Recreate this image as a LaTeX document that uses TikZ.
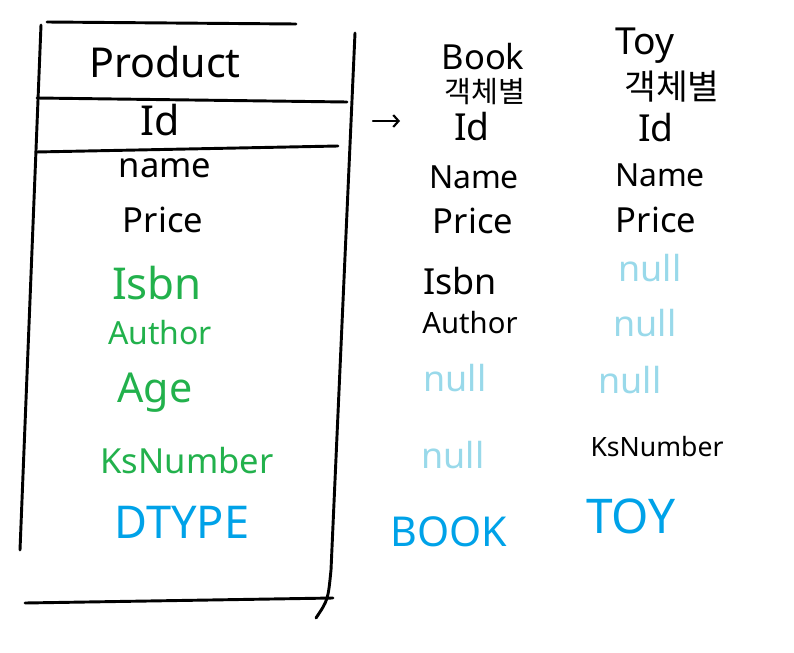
\documentclass[tikz,border=0pt]{standalone}
\usepackage{fontspec}
\setmainfont{Noto Sans}
\newfontfamily\korfont{Noto Sans CJK KR}
\usetikzlibrary{arrows.meta}
\definecolor{ink}{HTML}{000000}
\definecolor{grn}{HTML}{22B14C}
\definecolor{sky}{HTML}{00A2E8}
\definecolor{pale}{HTML}{99D9EA}

\begin{document}
\begin{tikzpicture}[x=0.02645cm,y=-0.02645cm,text=ink,>={Straight Barb[length=4pt,width=9pt]},
  pen/.style={line width=2.2pt,line cap=round,line join=round},
  fld/.style={inner sep=0pt,font=\fontsize{26}{28}\selectfont},
  sub/.style={fld,text=grn},
  nul/.style={inner sep=0pt,font=\fontsize{27}{29}\selectfont,text=pale},
  kind/.style={inner sep=0pt,font=\fontsize{34}{36}\selectfont,text=sky}]
  \useasboundingbox (0,0) rectangle (794,653);

  % single table
  \draw[pen] (47,22) -- (296,24);
  \draw[pen] (41,25) -- (20,550);
  \draw[pen] (355,33) -- (331,570) .. controls (328,600) .. (316,618);
  \draw[pen] (37,98) -- (347,102);
  \draw[pen] (36,152) -- (338,146);
  \draw[pen] (25,603) -- (333,598);

  \node[fld,font=\fontsize{31}{33}\selectfont] (prod) at (165,62) {Product};
  \node[fld,font=\fontsize{31}{33}\selectfont] (pid) at (160,120) {Id};
  \node[fld] (pname) at (165,168) {name};
  \node[fld] (pprice) at (163,220) {Price};
  \node[sub,font=\fontsize{33}{35}\selectfont] (pisbn) at (157,283) {Isbn};
  \node[sub,font=\fontsize{24}{26}\selectfont] (pauth) at (160,333) {Author};
  \node[sub,font=\fontsize{31}{33}\selectfont] (page) at (155,393) {Age};
  \node[sub] (pks) at (187,461) {KsNumber};
  \node[kind,font=\fontsize{34}{36}\selectfont] (pdtype) at (182,522) {DTYPE};

  \coordinate (arrS) at (373,121);
  \coordinate (arrE) at (400,121);
  \draw[pen,line width=1.6pt,->] (arrS) -- (arrE);

  % Book row
  \node[fld] (book) at (483,57) {Book};
  \node[inner sep=0pt,font=\korfont\fontsize{22}{24}\selectfont] (bkobj) at (485,92) {객체별};
  \node[fld,font=\fontsize{28}{30}\selectfont] (bkid) at (472,127) {Id};
  \node[fld,font=\fontsize{24}{26}\selectfont] (bkname) at (474,177) {Name};
  \node[fld] (bkprice) at (473,221) {Price};
  \node[fld,font=\fontsize{27}{29}\selectfont] (bkisbn) at (460,281) {Isbn};
  \node[fld,font=\fontsize{22}{24}\selectfont] (bkauth) at (470,323) {Author};
  \node[nul] (bknullA) at (455,378) {null};
  \node[nul] (bknullB) at (453,455) {null};
  \node[kind,font=\fontsize{31}{33}\selectfont] (bktype) at (449,532) {BOOK};

  % Toy row
  \node[fld,font=\fontsize{28}{30}\selectfont] (toy) at (645,46) {Toy};
  \node[inner sep=0pt,font=\korfont\fontsize{26}{28}\selectfont] (tyobj) at (672,87) {객체별};
  \node[fld,font=\fontsize{28}{30}\selectfont] (tyid) at (656,128) {Id};
  \node[fld,font=\fontsize{24}{26}\selectfont] (tyname) at (660,175) {Name};
  \node[fld] (typrice) at (656,220) {Price};
  \node[nul] (tynullA) at (650,268) {null};
  \node[nul] (tynullB) at (645,323) {null};
  \node[nul] (tynullC) at (630,380) {null};
  \node[fld,font=\fontsize{20}{22}\selectfont] (tyks) at (657,447) {KsNumber};
  \node[kind,font=\fontsize{36}{38}\selectfont] (tytype) at (631,516) {TOY};
\end{tikzpicture}
\end{document}
